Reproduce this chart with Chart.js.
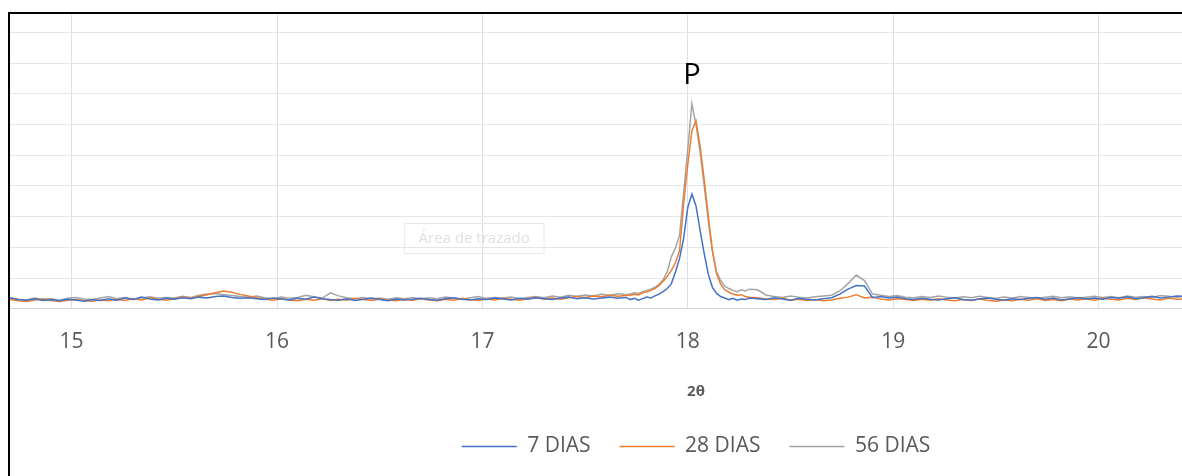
<html>
<head>
<title>DRX 2θ</title>
<script src="https://cdn.jsdelivr.net/npm/chart.js"></script>
<style>
  body { margin: 0; overflow: hidden; background: #fff; }
  #frame { position: absolute; left: 8px; top: 12px; width: 1372px; height: 462px;
           border-left: 2px solid #000; border-top: 2px solid #000; }
</style>
</head>
<body>
<div id="frame"><canvas id="myChart" width="1372" height="462"></canvas></div>
<script>
// 2θ positions (finer around the main peak)
const twoTheta = [
  14.70,14.74,14.78,14.82,14.86,14.90,14.94,14.98,15.02,15.06,
  15.10,15.14,15.18,15.22,15.26,15.30,15.34,15.38,15.42,15.46,
  15.50,15.54,15.58,15.62,15.66,15.70,15.74,15.78,15.82,15.86,
  15.90,15.94,15.98,16.02,16.06,16.10,16.14,16.18,16.22,16.26,
  16.30,16.34,16.38,16.42,16.46,16.50,16.54,16.58,16.62,16.66,
  16.70,16.74,16.78,16.82,16.86,16.90,16.94,16.98,17.02,17.06,
  17.10,17.14,17.18,17.22,17.26,17.30,17.34,17.38,17.42,17.46,
  17.50,17.54,17.58,17.62,17.66,17.70,
  17.72,17.74,17.76,17.78,17.80,17.82,17.84,17.86,17.88,17.90,
  17.92,17.94,17.96,17.98,18.00,18.02,18.04,18.06,18.08,18.10,
  18.12,18.14,18.16,18.18,18.20,18.22,18.24,18.26,18.28,18.30,
  18.34,18.38,18.42,18.46,18.50,18.54,18.58,18.62,18.66,18.70,
  18.74,18.78,18.82,18.86,18.90,18.94,18.98,19.02,19.06,19.10,
  19.14,19.18,19.22,19.26,19.30,19.34,19.38,19.42,19.46,19.50,
  19.54,19.58,19.62,19.66,19.70,19.74,19.78,19.82,19.86,19.90,
  19.94,19.98,20.02,20.06,20.10,20.14,20.18,20.22,20.26,20.30,
  20.34,20.38,20.42,20.46
];

const dias7 = [
  36,30,28,33,27,30,26,31,29,25,
  30,27,33,28,35,30,38,32,29,34,
  31,36,33,38,35,40,42,37,34,36,
  33,30,35,32,29,34,31,38,33,30,
  28,33,27,31,35,30,26,32,29,31,
  34,30,28,33,36,31,29,33,30,35,
  32,29,34,31,36,33,30,35,38,33,
  36,32,35,38,34,37,
  30,34,28,33,38,35,42,48,56,66,
  82,120,164,230,330,374,335,255,180,112,
  70,50,40,35,30,34,28,32,30,35,
  33,30,36,32,28,34,31,29,33,36,
  48,64,76,74,36,40,35,38,33,30,
  34,31,29,33,36,30,28,32,35,31,
  28,33,30,34,37,31,35,29,33,36,
  32,35,31,37,34,39,33,36,41,35,
  38,42,40,37
];

const dias28 = [
  30,26,24,29,32,27,24,28,30,27,
  25,29,26,31,27,33,29,36,31,28,
  33,38,34,41,46,52,58,54,47,42,
  36,32,28,33,29,26,31,28,33,27,
  31,28,34,30,27,32,29,26,31,28,
  33,29,26,31,28,34,30,27,32,29,
  34,31,28,33,37,32,35,31,36,40,
  37,42,39,44,41,43,
  44,47,45,52,55,60,66,76,90,105,
  125,150,190,345,470,580,612,530,420,300,
  190,115,80,62,54,48,44,46,40,38,
  36,32,30,35,28,31,27,30,26,29,
  34,38,46,35,38,32,29,33,30,27,
  31,28,33,29,26,30,27,32,28,25,
  29,26,31,28,33,27,30,26,32,29,
  33,28,35,31,29,34,30,36,32,29,
  35,31,33,30
];

const dias56 = [
  34,31,29,35,31,33,28,34,37,32,
  30,35,40,33,37,31,35,39,34,37,
  35,41,37,44,48,50,46,43,40,38,
  42,36,33,38,34,37,44,39,35,52,
  42,36,33,37,32,35,31,36,33,37,
  32,36,33,38,35,31,36,40,34,37,
  35,38,33,37,40,36,42,38,44,41,
  45,42,47,44,49,46,
  48,52,50,56,60,64,70,80,95,120,
  170,198,240,380,520,668,600,510,400,285,
  185,120,92,74,66,60,56,62,58,64,
  62,45,40,37,42,38,35,39,42,44,
  58,82,110,92,48,44,40,43,38,36,
  40,37,42,38,35,39,36,41,37,34,
  38,35,40,37,34,38,41,36,39,35,
  38,41,37,40,36,42,38,40,37,43,
  41,38,42,40
];

const seriesNames = ['7 DIAS', '28 DIAS', '56 DIAS'];
const seriesColors = ['#4472C4', '#ED7D31', '#A5A5A5'];
const seriesValues = [dias7, dias28, dias56];

const peakLabel = { text: 'P', x: 18.02, y: 760 };
const ghostLabel = { text: 'Área de trazado', x0: 16.62, x1: 17.30, y0: 180, y1: 278 };

Chart.defaults.font.family = "'Open Sans', sans-serif";

const datasets = seriesNames.map(function (name, s) {
  return {
    label: name,
    data: twoTheta.map(function (x, i) { return { x: x, y: seriesValues[s][i] }; }),
    borderColor: seriesColors[s],
    backgroundColor: seriesColors[s],
    borderWidth: 1.5,
    pointRadius: 0,
    tension: 0
  };
});

// faint leftover "Área de trazado" tooltip box from the original screenshot
const ghostPlugin = {
  id: 'ghost',
  beforeDatasetsDraw(chart) {
    const ctx = chart.ctx, xs = chart.scales.x, ys = chart.scales.y;
    const x0 = xs.getPixelForValue(ghostLabel.x0), x1 = xs.getPixelForValue(ghostLabel.x1);
    const y0 = ys.getPixelForValue(ghostLabel.y1), y1 = ys.getPixelForValue(ghostLabel.y0);
    ctx.save();
    ctx.strokeStyle = '#e8e8e8';
    ctx.lineWidth = 1;
    ctx.strokeRect(x0, y0, x1 - x0, y1 - y0);
    ctx.fillStyle = '#e0e0e0';
    ctx.font = "15px 'Open Sans', sans-serif";
    ctx.textAlign = 'center';
    ctx.textBaseline = 'middle';
    ctx.fillText(ghostLabel.text, (x0 + x1) / 2, (y0 + y1) / 2);
    ctx.restore();
  }
};

const peakPlugin = {
  id: 'peak',
  afterDatasetsDraw(chart) {
    const ctx = chart.ctx;
    ctx.save();
    ctx.fillStyle = '#000';
    ctx.font = "29px 'Open Sans', sans-serif";
    ctx.textAlign = 'center';
    ctx.textBaseline = 'middle';
    ctx.fillText(peakLabel.text, chart.scales.x.getPixelForValue(peakLabel.x), chart.scales.y.getPixelForValue(peakLabel.y));
    ctx.restore();
  }
};

var ctx = document.getElementById('myChart').getContext('2d');
var myChart = new Chart(ctx, {
  type: 'line',
  data: { datasets: datasets },
  plugins: [ghostPlugin, peakPlugin],
  options: {
    responsive: false,
    animation: false,
    layout: { padding: { left: 0, right: 0, top: 0, bottom: 9 } },
    plugins: {
      tooltip: { enabled: false },
      legend: {
        position: 'bottom',
        labels: {
          usePointStyle: true,
          pointStyle: 'line',
          pointStyleWidth: 55,
          color: '#595959',
          font: { size: 21 },
          padding: 29
        }
      }
    },
    scales: {
      x: {
        type: 'linear',
        min: 14.70,
        max: 21.38,
        ticks: { stepSize: 1, includeBounds: false, color: '#595959', font: { size: 21 }, padding: 21 },
        grid: { color: '#dadfe9', drawTicks: false },
        border: { color: '#cfd3da', width: 1 },
        title: {
          display: true,
          text: '2θ',
          color: '#595959',
          font: { size: 15, weight: 'bold' },
          padding: { top: 7, bottom: 6 }
        }
      },
      y: {
        min: 0,
        max: 960,
        ticks: { display: false, stepSize: 100, includeBounds: false },
        grid: { color: '#e2e5ec', drawTicks: false },
        border: { display: false }
      }
    }
  }
});
</script>
</body>
</html>
